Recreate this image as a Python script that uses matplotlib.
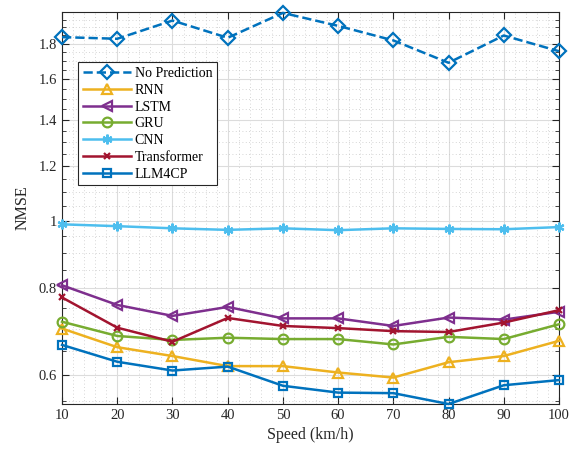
import numpy as np
import matplotlib
matplotlib.use("Agg")
import matplotlib.pyplot as plt
from matplotlib.ticker import FixedLocator, NullFormatter

plt.rcParams['font.family'] = ['Liberation Serif', 'DejaVu Serif']
plt.rcParams['mathtext.fontset'] = 'stix'

speed = [10, 20, 30, 40, 50, 60, 70, 80, 90, 100]

no_pred = [1.84, 1.83, 1.944, 1.836, 1.994, 1.91, 1.82, 1.69, 1.85, 1.756]
rnn = [0.700, 0.658, 0.639, 0.618, 0.618, 0.605, 0.595, 0.626, 0.639, 0.672]
lstm = [0.808, 0.757, 0.730, 0.752, 0.724, 0.724, 0.706, 0.726, 0.721, 0.740]
gru = [0.716, 0.683, 0.674, 0.679, 0.676, 0.676, 0.664, 0.681, 0.676, 0.710]
cnn = [0.989, 0.983, 0.976, 0.971, 0.976, 0.970, 0.976, 0.974, 0.973, 0.980]
transformer = [0.776, 0.702, 0.670, 0.725, 0.706, 0.701, 0.694, 0.692, 0.714, 0.744]
llm4cp = [0.663, 0.627, 0.609, 0.617, 0.579, 0.566, 0.565, 0.545, 0.580, 0.590]

yticks = [0.6, 0.8, 1, 1.2, 1.4, 1.6, 1.8]
ytick_labels = ['0.6', '0.8', '1', '1.2', '1.4', '1.6', '1.8']

fig = plt.figure(figsize=(5.77, 4.54), dpi=100)
ax = fig.add_axes([0.1075, 0.1101, 0.8613, 0.8635])

asterisk = (6, 2, 0)
series = [
    (no_pred, 'No Prediction', '#0072BD', 'D', '--', 7),
    (rnn, 'RNN', '#EDB120', '^', '-', 7.5),
    (lstm, 'LSTM', '#7E2F8E', '<', '-', 7.5),
    (gru, 'GRU', '#77AC30', 'o', '-', 7),
    (cnn, 'CNN', '#4DBEEE', asterisk, '-', 7),
    (transformer, 'Transformer', '#A2142F', 'x', '-', 5),
    (llm4cp, 'LLM4CP', '#0072BD', 's', '-', 6),
]

for vals, name, color, mk, ls, ms in series:
    ax.plot(speed, vals, linestyle=ls, color=color, marker=mk,
            markersize=ms, markerfacecolor='none', markeredgewidth=1.6,
            linewidth=1.8, label=name, clip_on=False, zorder=3)

ax.set_yscale('log')
ax.set_xlim(10, 100)
ax.set_ylim(0.545, 2.0)

ax.set_xticks(speed)
ax.xaxis.set_minor_locator(FixedLocator(np.arange(10, 101, 2)))
ax.yaxis.set_major_locator(FixedLocator(yticks))
ax.set_yticklabels(ytick_labels)
ax.yaxis.set_minor_locator(FixedLocator(np.round(np.arange(0.55, 2.0, 0.05), 2)))
ax.yaxis.set_minor_formatter(NullFormatter())

ax.tick_params(which='both', direction='in', top=True, right=True,
               labelsize=10.5, colors='#262626')
ax.tick_params(which='major', length=5, width=0.8)
ax.tick_params(axis='y', which='minor', length=3, width=0.6)
ax.tick_params(axis='x', which='minor', length=0)

ax.grid(which='major', color='#dcdcdc', linewidth=0.8, linestyle='-')
ax.grid(which='minor', color='#c8c8c8', linewidth=0.6, linestyle=(0, (1, 3)))
ax.set_axisbelow(True)

for sp in ax.spines.values():
    sp.set_color('#262626')
    sp.set_linewidth(0.8)

ax.set_xlabel('Speed (km/h)', fontsize=11.5, color='#262626', labelpad=4)
ax.set_ylabel('NMSE', fontsize=11.5, color='#262626', labelpad=6)

leg = ax.legend(loc='upper left', bbox_to_anchor=(0.032, 0.872),
                borderaxespad=0, fontsize=10, handlelength=3.5,
                labelspacing=0.27, handletextpad=0.25, borderpad=0.35,
                fancybox=False, framealpha=1, edgecolor='#262626')
leg.get_frame().set_linewidth(0.8)

fig.savefig('out.png', dpi=100)
